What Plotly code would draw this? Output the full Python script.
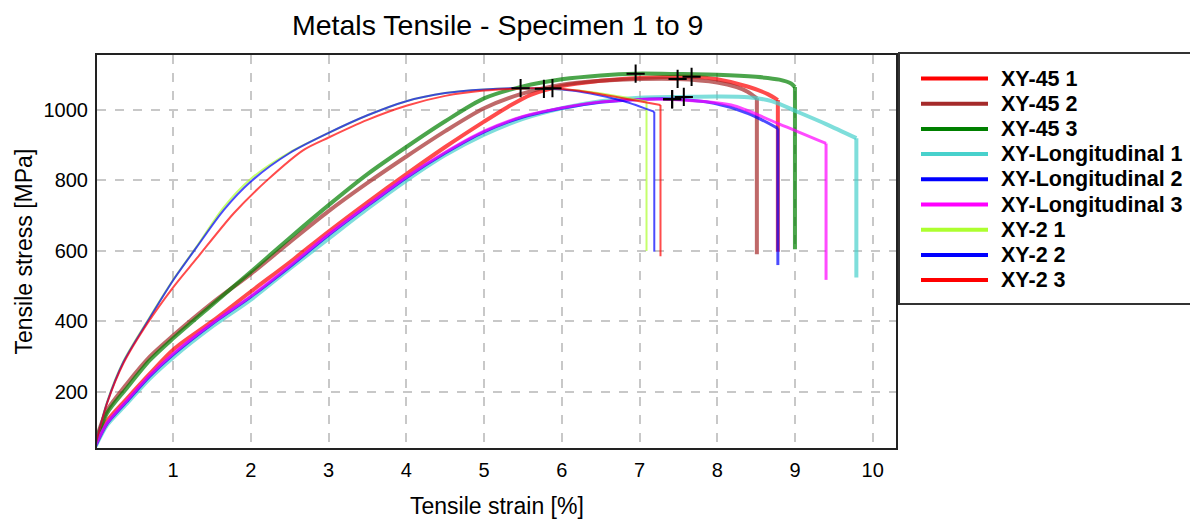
import plotly.graph_objects as go

# ---------------- data ----------------
names = ["XY-45 1", "XY-45 2", "XY-45 3",
         "XY-Longitudinal 1", "XY-Longitudinal 2", "XY-Longitudinal 3",
         "XY-2 1", "XY-2 2", "XY-2 3"]
colors = ["#ff0000", "#a52a2a", "#008000",
          "#48d1cc", "#0000ff", "#ff00ff",
          "#adff2f", "#0000ff", "#ff0000"]
widths = [4, 4, 4, 4, 3, 3, 2, 2, 2]

strain_xy45_1 = [0, 0.15, 0.4, 0.7, 1.0, 1.5, 2.0, 2.5, 3.0, 3.5, 4.0, 4.5, 5.0, 5.3, 5.6, 6.0, 6.5, 7.0, 7.67, 8.0, 8.4, 8.65, 8.78, 8.78]
stress_xy45_1 = [55, 118, 180, 252, 320, 400, 485, 568, 655, 738, 818, 895, 967, 1008, 1043, 1068, 1083, 1091, 1094, 1087, 1066, 1045, 1028, 598]

strain_xy45_2 = [0, 0.15, 0.4, 0.7, 1.0, 1.5, 2.0, 2.5, 3.0, 3.5, 4.0, 4.5, 5.0, 5.47, 6.0, 6.5, 7.0, 7.49, 8.0, 8.25, 8.39, 8.51, 8.51]
stress_xy45_2 = [60, 148, 222, 300, 360, 452, 535, 625, 713, 793, 868, 940, 1005, 1045, 1072, 1083, 1088, 1088, 1078, 1065, 1052, 1033, 591]

strain_xy45_3 = [0, 0.15, 0.4, 0.7, 1.0, 1.5, 2.0, 2.5, 3.0, 3.5, 4.0, 4.5, 5.0, 5.5, 6.0, 6.5, 6.95, 7.5, 8.0, 8.5, 8.8, 8.95, 9.0, 9.0]
stress_xy45_3 = [55, 140, 210, 290, 352, 447, 541, 637, 730, 818, 895, 968, 1033, 1067, 1087, 1098, 1103, 1102, 1100, 1094, 1086, 1075, 1065, 605]

strain_long_1 = [0, 0.15, 0.4, 0.7, 1.0, 1.5, 2.0, 2.5, 3.0, 3.5, 4.0, 4.5, 5.0, 5.5, 6.0, 6.5, 7.0, 7.57, 8.0, 8.4, 8.7, 9.03, 9.4, 9.79, 9.79]
stress_long_1 = [45, 106, 166, 238, 298, 385, 462, 550, 635, 720, 800, 872, 930, 975, 1005, 1025, 1035, 1037, 1038, 1036, 1025, 995, 960, 920, 525]

strain_long_2 = [0, 0.15, 0.4, 0.7, 1.0, 1.5, 2.0, 2.5, 3.0, 3.5, 4.0, 4.5, 5.0, 5.5, 6.0, 6.5, 7.0, 7.42, 7.96, 8.4, 8.78, 8.78]
stress_long_2 = [45, 110, 172, 245, 306, 393, 470, 555, 645, 728, 808, 878, 938, 980, 1005, 1022, 1030, 1031, 1019, 990, 948, 560]

strain_long_3 = [0, 0.15, 0.4, 0.7, 1.0, 1.5, 2.0, 2.5, 3.0, 3.5, 4.0, 4.5, 5.0, 5.5, 6.0, 6.5, 7.0, 7.42, 8.18, 8.8, 9.4, 9.4]
stress_long_3 = [48, 112, 175, 248, 309, 395, 472, 558, 648, 730, 810, 880, 940, 982, 1006, 1023, 1030, 1030, 1014, 960, 905, 518]

strain_xy2_1 = [0, 0.15, 0.36, 0.67, 1.0, 1.3, 1.65, 2.0, 2.5, 3.0, 3.5, 4.0, 4.5, 5.0, 5.5, 5.77, 6.2, 6.7, 7.09, 7.09]
stress_xy2_1 = [50, 172, 287, 402, 518, 612, 724, 805, 880, 935, 985, 1025, 1048, 1058, 1061, 1060, 1055, 1040, 1024, 600]

strain_xy2_2 = [0, 0.15, 0.36, 0.67, 1.0, 1.3, 1.65, 2.0, 2.5, 3.0, 3.5, 4.0, 4.5, 5.0, 5.47, 6.0, 6.37, 6.8, 7.19, 7.19]
stress_xy2_2 = [50, 170, 285, 400, 517, 610, 716, 797, 878, 935, 985, 1025, 1048, 1058, 1062, 1058, 1047, 1025, 995, 598]

strain_xy2_3 = [0, 0.15, 0.36, 0.67, 1.0, 1.3, 1.78, 2.21, 2.68, 3.0, 3.5, 4.0, 4.5, 5.0, 5.5, 5.88, 6.2, 6.67, 7.0, 7.27, 7.27]
stress_xy2_3 = [50, 168, 281, 395, 497, 578, 707, 801, 887, 922, 972, 1012, 1040, 1055, 1061, 1062, 1055, 1038, 1025, 1014, 585]

# ultimate tensile strength markers (+)
uts_strain = [7.67, 7.49, 6.95, 7.57, 7.42, 7.42, 5.77, 5.47, 5.88]
uts_stress = [1094, 1088, 1103, 1037, 1031, 1030, 1060, 1062, 1062]

x_ticks = [1, 2, 3, 4, 5, 6, 7, 8, 9, 10]
y_ticks = [200, 400, 600, 800, 1000]

title_text = "Metals Tensile - Specimen 1 to 9"
x_title = "Tensile strain [%]"
y_title = "Tensile stress [MPa]"

strains = [strain_xy45_1, strain_xy45_2, strain_xy45_3, strain_long_1, strain_long_2,
           strain_long_3, strain_xy2_1, strain_xy2_2, strain_xy2_3]
stresses = [stress_xy45_1, stress_xy45_2, stress_xy45_3, stress_long_1, stress_long_2,
            stress_long_3, stress_xy2_1, stress_xy2_2, stress_xy2_3]

# ---------------- figure ----------------
OFF = 8  # page body margin
W, H = 1198 - OFF, 522 - OFF
L, R, T, B = 97 - OFF, 896 - OFF, 55 - OFF, 448 - OFF  # plot area in figure pixels

FONT = "Arial, 'Liberation Sans', sans-serif"

fig = go.Figure()
for nm, c, w, xs, ys in zip(names, colors, widths, strains, stresses):
    # smooth loading curve
    fig.add_trace(go.Scatter(x=xs[:-1], y=ys[:-1], mode="lines", name=nm, legendgroup=nm,
                             line=dict(color=c, width=w, shape="spline", smoothing=0.8),
                             opacity=0.7, showlegend=False))
    # fracture drop
    fig.add_trace(go.Scatter(x=xs[-2:], y=ys[-2:], mode="lines", name=nm, legendgroup=nm,
                             line=dict(color=c, width=w), opacity=0.7, showlegend=False))

fig.add_trace(go.Scatter(x=uts_strain, y=uts_stress, mode="markers", name="UTS",
                         marker=dict(symbol="cross-thin", size=13,
                                     line=dict(width=2, color="black")),
                         showlegend=False))

def px_x(p):
    return (p - OFF - L) / (R - L)

def px_y(p):
    return (B - (p - OFF)) / (B - T)

# legend box drawn in reference pixel positions
shapes = [dict(type="rect", xref="paper", yref="paper",
               x0=px_x(899), x1=px_x(1196), y0=px_y(304), y1=px_y(53),
               line=dict(color="#333333", width=2), fillcolor="white")]
annotations = []
for i, (nm, c) in enumerate(zip(names, colors)):
    yy = px_y(78.5 + 25.2 * i)
    shapes.append(dict(type="line", xref="paper", yref="paper",
                       x0=px_x(921), x1=px_x(988), y0=yy, y1=yy,
                       line=dict(color=c, width=4)))
    annotations.append(dict(xref="paper", yref="paper", x=px_x(999), y=yy,
                            text="<b>%s</b>" % nm, showarrow=False,
                            xanchor="left", yanchor="middle",
                            font=dict(family=FONT, size=21.5, color="black")))

# title and axis titles
annotations.append(dict(xref="paper", yref="paper", x=px_x(497.5), y=px_y(25),
                        text=title_text, showarrow=False, xanchor="center", yanchor="middle",
                        font=dict(family=FONT, size=28.5, color="black")))
annotations.append(dict(xref="paper", yref="paper", x=px_x(496.5), y=px_y(506),
                        text=x_title, showarrow=False, xanchor="center", yanchor="middle",
                        font=dict(family=FONT, size=23, color="black")))
annotations.append(dict(xref="paper", yref="paper", x=px_x(23), y=px_y(251.5),
                        text=y_title, showarrow=False, xanchor="center", yanchor="middle",
                        textangle=-90, font=dict(family=FONT, size=23, color="black")))

fig.update_layout(
    width=W, height=H,
    margin=dict(l=L, r=W - R, t=T, b=H - B, pad=0),
    paper_bgcolor="white", plot_bgcolor="white",
    font=dict(family=FONT, color="black"),
    shapes=shapes, annotations=annotations,
    showlegend=False,
)

fig.update_xaxes(range=[0.02, 10.3], tickvals=x_ticks, ticktext=[str(v) for v in x_ticks],
                 showgrid=True, gridcolor="#c8c8c8", gridwidth=1.5, griddash="dash",
                 zeroline=False, showline=True, linecolor="#222222", linewidth=2, mirror=True,
                 ticks="outside", ticklen=3, tickcolor="rgba(0,0,0,0)",
                 tickfont=dict(size=20, family=FONT, color="black"))
fig.update_yaxes(range=[41, 1156], tickvals=y_ticks, ticktext=[str(v) for v in y_ticks],
                 showgrid=True, gridcolor="#c8c8c8", gridwidth=1.5, griddash="dash",
                 zeroline=False, showline=True, linecolor="#222222", linewidth=2, mirror=True,
                 ticks="outside", ticklen=3, tickcolor="rgba(0,0,0,0)",
                 tickfont=dict(size=20, family=FONT, color="black"))

fig.write_html("out.html")
